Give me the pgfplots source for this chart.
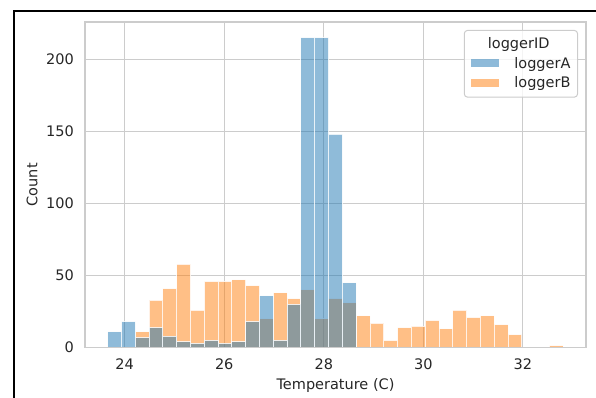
\documentclass[border=0pt]{standalone}
\usepackage{fontspec}
\setmainfont{DejaVu Sans}
\usepackage{pgfplots}
\usepackage{pgfplotstable}
\pgfplotsset{compat=1.18}
\definecolor{sbblue}{HTML}{1F77B4}
\definecolor{sborange}{HTML}{FF7F0E}
\definecolor{gridgray}{HTML}{CCCCCC}
\definecolor{txt}{HTML}{262626}

% bin left edges, counts for loggerA (A) and loggerB (B)
\pgfplotstableread{
x       A    B
23.6600 11   0
23.9373 18   0
24.2145 7    11
24.4918 14   33
24.7691 8    41
25.0464 4    58
25.3236 3    26
25.6009 5    46
25.8782 3    46
26.1555 4    47
26.4327 18   43
26.7100 36   20
26.9873 5    38
27.2645 30   34
27.5418 215  40
27.8191 215  20
28.0964 148  34
28.3736 45   31
28.6509 0    22
28.9282 0    17
29.2055 0    5
29.4827 0    14
29.7600 0    15
30.0373 0    19
30.3145 0    13
30.5918 0    26
30.8691 0    21
31.1464 0    22
31.4236 0    16
31.7009 0    9
31.9782 0    0
32.2555 0    0
32.5327 0    1.5
32.8100 0    0
}\data

\begin{document}
\fontsize{14.5}{17.4}\selectfont
\begin{tikzpicture}[x=1pt,y=1pt]
\begin{axis}[
  at={(0,0)}, anchor=south west,
  scale only axis, width=501pt, height=325.7pt,
  xmin=23.2025, xmax=33.2675, ymin=0, ymax=225.75,
  xtick={24,26,28,30,32}, ytick={0,50,100,150,200},
  grid=major, major grid style={gridgray, line width=1pt},
  axis line style={gridgray, line width=1.2pt},
  tick style={draw=none},
  tick label style={text=txt, /pgf/number format/assume math mode=true},
  xticklabel style={inner sep=0pt, anchor=north, yshift=-11pt},
  yticklabel style={inner sep=0pt, anchor=east, xshift=-11pt},
  xlabel={Temperature (C)}, ylabel={Count},
  xlabel style={at={(axis description cs:0.5,-0.1167)}, anchor=center, inner sep=0pt, text=txt},
  ylabel style={at={(axis description cs:-0.1058,0.5)}, rotate=0, anchor=center, inner sep=0pt, text=txt},
  legend image code/.code={\path[#1, draw=none, sharp corners] (0pt,1.3pt) rectangle (28pt,9pt);},
  legend style={at={(rel axis cs:1,1)}, xshift=-8pt, yshift=-8pt, anchor=north east,
    draw=gridgray, line width=1pt, rounded corners=3pt, fill=white, fill opacity=0.8,
    draw opacity=1, text opacity=1, inner xsep=7pt, inner ysep=7pt,
    row sep=6.5pt, column sep=15pt, nodes={inner sep=0pt, text=txt},
    cells={anchor=base west}},
]
\addplot[ybar interval, fill=sborange, fill opacity=0.5, draw=white, draw opacity=0.8, line width=1pt, forget plot]
  table[x=x, y=B] {\data};
\addplot[ybar interval, fill=sbblue, fill opacity=0.5, draw=white, draw opacity=0.8, line width=1pt, forget plot]
  table[x=x, y=A] {\data};
\draw[gridgray, line width=1.2pt] (rel axis cs:0,0) rectangle (rel axis cs:1,1);
\addlegendimage{empty legend}
\addlegendentry{\hspace{-26.5pt}loggerID}
\addlegendimage{fill=sbblue, fill opacity=0.5}
\addlegendentry{loggerA}
\addlegendimage{fill=sborange, fill opacity=0.5}
\addlegendentry{loggerB}
\end{axis}
\draw[black, line width=2pt] (-71,-70) -- (-71,336.7) -- (540,336.7);
\pgfresetboundingbox
\useasboundingbox (-85,-50.3) rectangle (511,347.7);
\end{tikzpicture}
\end{document}
